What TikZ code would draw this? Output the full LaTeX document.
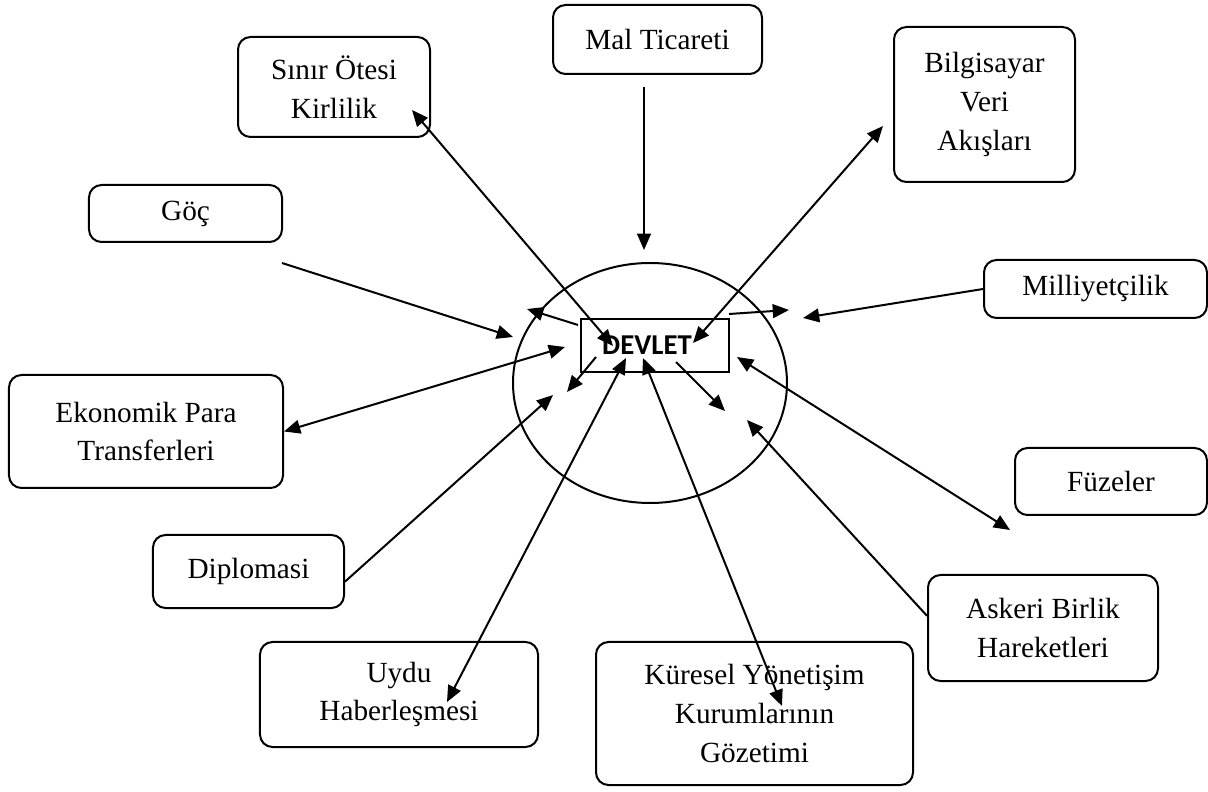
\documentclass[tikz,border=0pt]{standalone}
\usepackage{fontspec}
\setmainfont{Liberation Serif}
\newfontfamily\devletfont{Carlito}
\usetikzlibrary{arrows.meta}

\begin{document}
\begin{tikzpicture}[x=0.4pt, y=-0.4pt]
\tikzset{
    box/.style={rectangle, rounded corners=5pt, draw, line width=0.8pt, align=center,
        inner sep=0pt, font=\fontsize{11.7pt}{15.5pt}\selectfont},
    center/.style={rectangle, draw, line width=0.8pt, inner sep=0pt,
        font=\devletfont\bfseries\fontsize{11.5pt}{13pt}\selectfont},
    arr/.style={-{Triangle[length=6.5pt,width=5.5pt]}, line width=0.8pt},
    biarr/.style={{Triangle[length=6.5pt,width=5.5pt]}-{Triangle[length=6.5pt,width=5.5pt]}, line width=0.8pt}
}
  \useasboundingbox (0,0) rectangle (1208,792);

  \node[box, minimum width=83.6pt, minimum height=27.6pt] (mal) at (657.5,39.5) {Mal Ticareti};
  \node[box, minimum width=76.8pt, minimum height=40pt] (sinir) at (334,87) {Sınır Ötesi\\Kirlilik};
  \node[box, minimum width=72.4pt, minimum height=62pt] (bilgi) at (984.5,104.5) {Bilgisayar\\Veri\\Akışları};
  \node[box, minimum width=77.2pt, minimum height=22.8pt] (goc) at (185.5,213.5) {Göç};
  \node[box, minimum width=89.2pt, minimum height=23.2pt] (milli) at (1095.5,289) {Milliyetçilik};
  \node[box, minimum width=109.6pt, minimum height=45.2pt] (eko) at (146,431.5) {Ekonomik Para\\Transferleri};
  \node[box, minimum width=76.8pt, minimum height=26.8pt] (fuze) at (1111,481.5) {Füzeler};
  \node[box, minimum width=76.4pt, minimum height=29.2pt] (diplo) at (248.5,571.5) {Diplomasi};
  \node[box, minimum width=92pt, minimum height=42.4pt] (askeri) at (1043,628) {Askeri Birlik\\Hareketleri};
  \node[box, minimum width=111.2pt, minimum height=42pt] (uydu) at (399,694.5) {Uydu\\Haberleşmesi};
  \node[box, minimum width=126.8pt, minimum height=57.2pt] (kuresel) at (754.5,713.5) {Küresel Yönetişim\\Kurumlarının\\Gözetimi};

  \draw[line width=0.8pt] (650,383) ellipse (137 and 120);
  \node[center, minimum width=59.2pt, minimum height=21.2pt] (devlet) at (655,345.5)
    {\raisebox{-1.4pt}{DEVLET}\hspace*{6.4pt}};

  % free ends of the arrows
  \coordinate (malTop) at (644,87);
  \coordinate (malTip) at (644,250);
  \coordinate (sinirTip) at (412,110);
  \coordinate (sinirIn) at (613,346);
  \coordinate (bilgiTip) at (883,126);
  \coordinate (bilgiIn) at (693,343);
  \coordinate (gocStart) at (282,263);
  \coordinate (gocTip) at (513,337);
  \coordinate (ulStart) at (578,325);
  \coordinate (ulTip) at (527,309);
  \coordinate (milliTip) at (803,318);
  \coordinate (urStart) at (729,314);
  \coordinate (urTip) at (789,310);
  \coordinate (ekoIn) at (565,347);
  \coordinate (diploTip) at (553,395);
  \coordinate (dlStart) at (596,357);
  \coordinate (dlTip) at (567,392);
  \coordinate (uyduTip) at (447,702);
  \coordinate (uyduIn) at (626,358);
  \coordinate (kurTip) at (782,706);
  \coordinate (kurIn) at (643,358);
  \coordinate (drStart) at (676,362);
  \coordinate (drTip) at (725,411);
  \coordinate (fuzeIn) at (737,357);
  \coordinate (fuzeTip) at (1010,530);
  \coordinate (askTip) at (747,420);

  \draw[arr] (malTop) -- (malTip);
  \draw[biarr] (sinirTip) -- (sinirIn);
  \draw[biarr] (bilgiTip) -- (bilgiIn);
  \draw[arr] (gocStart) -- (gocTip);
  \draw[arr] (ulStart) -- (ulTip);
  \draw[arr] (milli.west) -- (milliTip);
  \draw[arr] (urStart) -- (urTip);
  \draw[biarr] (eko.east) -- (ekoIn);
  \draw[arr] (diplo.-6) -- (diploTip);
  \draw[arr] (dlStart) -- (dlTip);
  \draw[biarr] (uyduTip) -- (uyduIn);
  \draw[biarr] (kurTip) -- (kurIn);
  \draw[arr] (drStart) -- (drTip);
  \draw[biarr] (fuzeIn) -- (fuzeTip);
  \draw[arr] (askeri.174) -- (askTip);
\end{tikzpicture}
\end{document}
